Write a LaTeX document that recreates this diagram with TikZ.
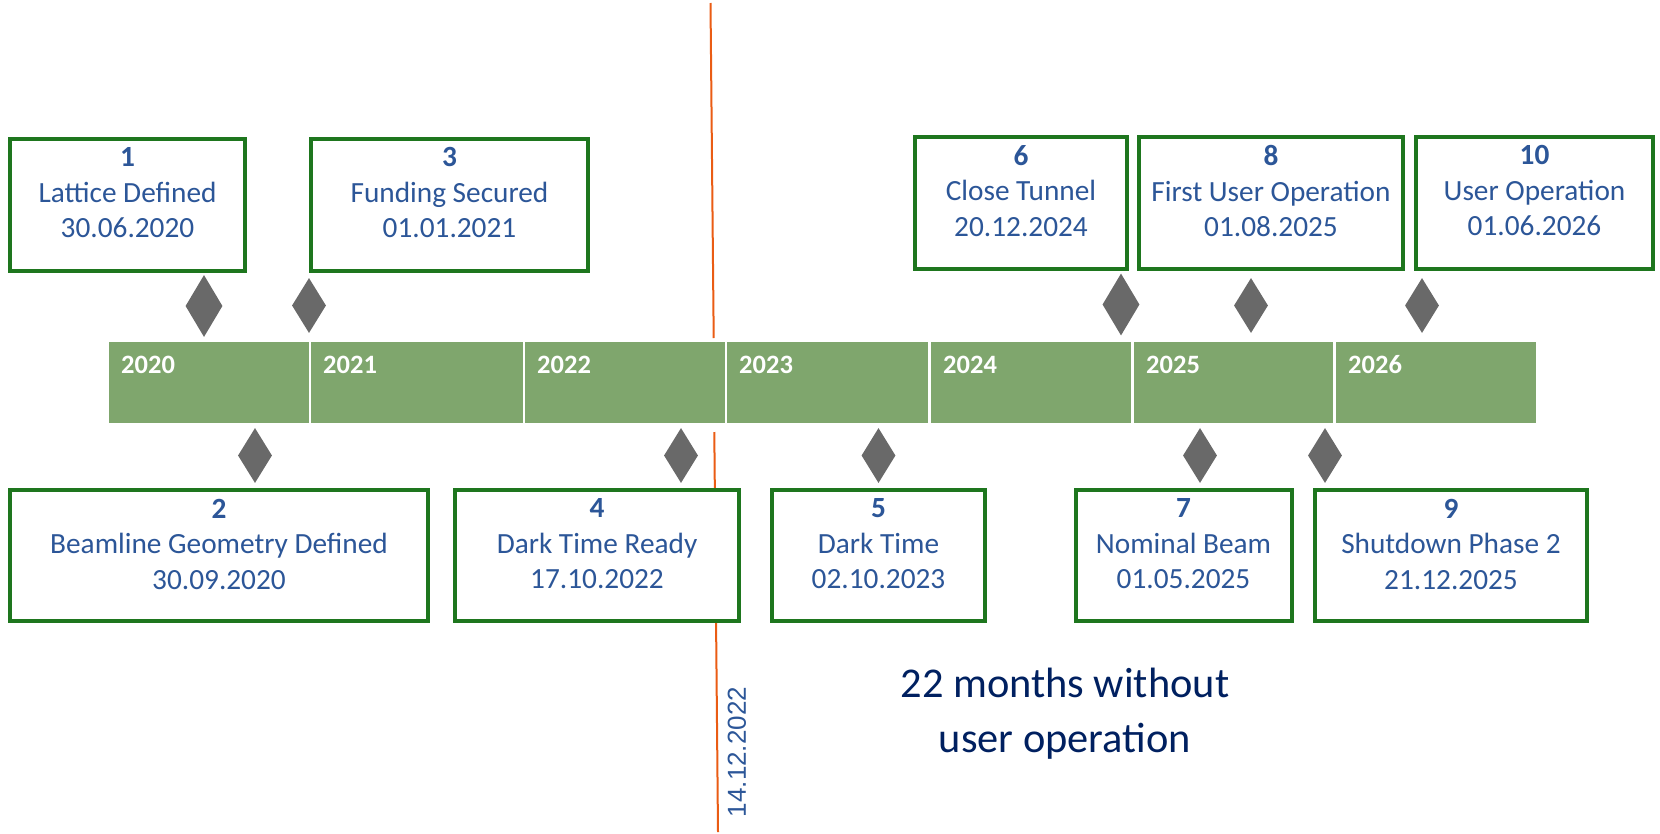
\documentclass[tikz,border=0pt]{standalone}
\usepackage{fontspec}
\setmainfont{Carlito}
\newfontfamily\datefont{Liberation Sans}
\usetikzlibrary{shapes.geometric}

\definecolor{bargreen}{RGB}{127,166,109}
\definecolor{boxgreen}{RGB}{30,118,30}
\definecolor{textblue}{RGB}{44,86,152}
\definecolor{navy}{RGB}{0,32,96}
\definecolor{markgray}{RGB}{105,105,105}
\definecolor{todayline}{RGB}{234,92,20}

\begin{document}
\begin{tikzpicture}[x=1pt, y=-1pt,
        evbox/.style={rectangle, draw=boxgreen, line width=4pt, fill=white, inner sep=0pt, minimum height=132pt},
        evtext/.style={align=center, text=textblue, inner sep=0pt, font=\fontsize{29.3}{35.5}\selectfont},
        marker/.style={diamond, fill=markgray, inner sep=0pt, minimum width=34pt, minimum height=55pt},
        yearlabel/.style={anchor=west, text=white, inner sep=0pt, font=\fontsize{26.5}{30}\bfseries}]
            \useasboundingbox (0,0) rectangle (1660,833);

            %Bar of years.
            \foreach \yr/\xl/\xr in {2020/109/309, 2021/311/523, 2022/525/725, 2023/727/928, 2024/931/1131, 2025/1134/1333, 2026/1336/1536} {
                \fill[bargreen] (\xl,342) rectangle (\xr,423);
                \node[yearlabel] (y\yr) at (\xl+12,365) {\yr};
            }

            %Line for the present day.
            \coordinate (now0) at (710.5,3);
            \coordinate (now1) at (713.7,338);
            \coordinate (now2) at (714.3,432);
            \coordinate (now3) at (718,832);
            \draw[todayline, line width=2pt] (now0) -- (now1);
            \draw[todayline, line width=2pt] (now2) -- (now3);
            \node[rotate=90, text=textblue, inner sep=0pt, font=\datefont\fontsize{26}{30}\selectfont] (nowdate) at (737,752) {14.12.2022};

            %Milestones above the bar.
            \node (m1) at (204,306) [marker, minimum width=37pt, minimum height=62pt] {};
            \node (m3) at (309,305.5) [marker] {};
            \node (m6) at (1121,304.5) [marker, minimum width=37pt, minimum height=62pt] {};
            \node (m8) at (1251,305.5) [marker] {};
            \node (m10) at (1422,305.5) [marker] {};

            \node (b1) at (127.5,205) [evbox, minimum width=235pt] {};
            \node (b3) at (449.5,205) [evbox, minimum width=277pt] {};
            \node (b6) at (1021,203) [evbox, minimum width=212pt] {};
            \node (b8) at (1271,203) [evbox, minimum width=264pt] {};
            \node (b10) at (1534.5,203) [evbox, minimum width=237pt] {};

            \node (t1) at (127.5,193) [evtext] {\textbf{1}\\Lattice Defined\\30.06.2020};
            \node (t3) at (449.5,193) [evtext] {\textbf{3}\\Funding Secured\\01.01.2021};
            \node (t6) at (1021,191) [evtext] {\textbf{6}\\Close Tunnel\\20.12.2024};
            \node (t8) at (1271,191) [evtext] {\textbf{8}\\First User Operation\\01.08.2025};
            \node (t10) at (1534.5,191) [evtext] {\textbf{10}\\User Operation\\01.06.2026};

            %Milestones below the bar.
            \node (m2) at (255,455.5) [marker] {};
            \node (m4) at (681,455.5) [marker] {};
            \node (m5) at (878.5,455.5) [marker] {};
            \node (m7) at (1200,455.5) [marker] {};
            \node (m9) at (1325,455.5) [marker] {};

            \node (b2) at (219,555.5) [evbox, minimum width=418pt, minimum height=131pt] {};
            \node (b4) at (597,555.5) [evbox, minimum width=284pt, minimum height=131pt] {};
            \node (b5) at (878.5,555.5) [evbox, minimum width=213pt, minimum height=131pt] {};
            \node (b7) at (1183.5,555.5) [evbox, minimum width=216pt, minimum height=131pt] {};
            \node (b9) at (1451,555.5) [evbox, minimum width=272pt, minimum height=131pt] {};

            \node (t2) at (219,544) [evtext] {\textbf{2}\\Beamline Geometry Defined\\30.09.2020};
            \node (t4) at (597,544) [evtext] {\textbf{4}\\Dark Time Ready\\17.10.2022};
            \node (t5) at (878.5,544) [evtext] {\textbf{5}\\Dark Time\\02.10.2023};
            \node (t7) at (1183.5,544) [evtext] {\textbf{7}\\Nominal Beam\\01.05.2025};
            \node (t9) at (1451,544) [evtext] {\textbf{9}\\Shutdown Phase 2\\21.12.2025};

            \node (gap) at (1065,714) [align=center, text=navy, inner sep=0pt, font=\fontsize{42.4}{55}\selectfont] {22 months without\\user operation};
        \end{tikzpicture}
\end{document}
